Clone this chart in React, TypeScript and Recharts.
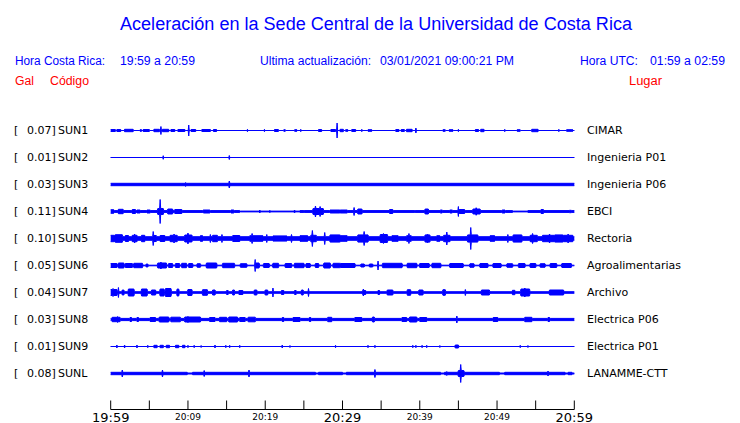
import React from 'react';
import { Area, ComposedChart, XAxis, YAxis } from 'recharts';

const BLUE = '#0000ff';
const RED = '#ff0000';

// Stations, top to bottom
const codes = ['SUN1', 'SUN2', 'SUN3', 'SUN4', 'SUN5', 'SUN6', 'SUN7', 'SUN8', 'SUN9', 'SUNL'];
const peaks = ['0.07', '0.01', '0.03', '0.11', '0.10', '0.05', '0.04', '0.03', '0.01', '0.08'];
const places = [
  'CIMAR', 'Ingenieria P01', 'Ingenieria P06', 'EBCI', 'Rectoria',
  'Agroalimentarias', 'Archivo', 'Electrica P06', 'Electrica P01', 'LANAMME-CTT',
];

// Minutes after 19:59
const minuteTicks = [0, 5, 10, 15, 20, 25, 30, 35, 40, 45, 50, 55, 60];
const tickLabels = ['19:59', '', '20:09', '', '20:19', '', '20:29', '', '20:39', '', '20:49', '', '20:59'];

// Trace envelopes: base half-amplitude, bursts [from, to, amp], spikes [at, amp]
type Burst = [number, number, number];
type Spike = [number, number];

const baseAmp = [0, 0, 1.2, 0.4, 1.8, 0.3, 0.8, 1.1, 0, 0.5];

const sun1Bursts: Burst[] = [
  [0, 0.6, 1], [0.8, 1.3, 1], [1.8, 2.9, 1.2], [3.8, 4.0, 0.8], [4.2, 5.0, 1], [5.6, 6.3, 1.2],
  [6.7, 7.5, 1.2], [7.8, 8.3, 1], [8.7, 9.6, 1], [10.4, 11.0, 1], [11.8, 12.9, 1], [13.3, 13.7, 1],
  [21.2, 21.7, 1], [22.4, 22.6, 0.8], [23.8, 24.1, 0.8], [26.9, 27.3, 1], [28.5, 29.1, 1],
  [29.7, 30.1, 1.2], [30.4, 30.7, 0.8], [31.2, 31.7, 1], [33.3, 33.8, 0.8], [36.9, 37.3, 1],
  [37.6, 38.0, 1], [38.3, 39.0, 1.2], [43.0, 43.3, 0.8], [43.8, 44.3, 0.8], [47.2, 47.6, 1],
  [47.9, 48.3, 1.2], [52.6, 53.0, 0.8], [54.5, 55.3, 1.2], [59.0, 59.6, 0.8],
];
const sun1Spikes: Spike[] = [
  [6.5, 4], [10.1, 5.5], [29.3, 7.5], [39.5, 2.5], [59.7, 1.5], [17.7, 1.2], [19.9, 1.2],
  [24.6, 1.2], [32.5, 1.2], [45.0, 1.2], [51.0, 1.2], [58.0, 1.2],
];

const sun2Bursts: Burst[] = [];
const sun2Spikes: Spike[] = [[6.8, 1.8], [15.35, 2]];

const sun3Bursts: Burst[] = [];
const sun3Spikes: Spike[] = [[15.35, 3.5], [9.7, 2]];

const sun4Bursts: Burst[] = [
  [0, 16.7, 0.9], [24.5, 52, 0.9], [54, 60, 0.9],
  [0, 0.4, 1.8], [1.0, 1.6, 2.2], [2.8, 3.2, 2], [3.4, 3.8, 1.5], [4.7, 5.1, 1.5], [6.1, 6.8, 3],
  [7.4, 8.0, 2.5], [8.3, 9.2, 2], [12.0, 12.8, 1.5], [15.6, 15.9, 1.5], [26.2, 27.5, 3],
  [28.4, 29.7, 1.5], [29.7, 30.6, 1.5], [32.0, 32.5, 2.5], [36.1, 36.5, 2], [40.7, 41.1, 2.5],
  [42.7, 42.9, 1.5], [43.9, 44.2, 1.5], [45.1, 45.8, 2], [46.9, 47.8, 2.5], [50.7, 51.0, 1.5],
  [55.7, 56.0, 2], [59.4, 59.6, 1.2],
];
const sun4Spikes: Spike[] = [
  [6.4, 12], [19.3, 1.5], [20.6, 1.2], [23.8, 1.5], [25.0, 1.5], [26.5, 5.5], [27.1, 5],
  [31.5, 4], [39.4, 1.5], [45.0, 5], [47.3, 3.8],
];

const sun5Bursts: Burst[] = [
  [0, 0.6, 3.2], [0.6, 1.5, 3.8], [1.9, 2.3, 3], [2.8, 3.4, 3.2], [4.0, 4.4, 3.2], [5.5, 5.9, 3],
  [6.4, 7.0, 3], [7.7, 8.6, 3.2], [9.6, 10.5, 3.5], [11.6, 11.9, 2.8], [13.2, 13.8, 3.2],
  [15.8, 16.7, 3], [18.0, 19.7, 2.8], [21.0, 22.8, 2.6], [24.5, 25.5, 2.8], [25.9, 26.6, 3.2],
  [28.4, 29.7, 3.6], [29.7, 30.6, 2.8], [32.0, 33.3, 3.6], [34.9, 35.8, 4], [36.4, 37.2, 2.8],
  [38.3, 38.9, 2.8], [40.7, 41.3, 3.6], [42.2, 42.6, 2.8], [43.1, 43.9, 3.2], [46.2, 47.5, 3.6],
  [49.1, 49.7, 2.8], [52.1, 53.2, 3.6], [54.3, 55.2, 3.2], [55.9, 59.8, 3.2], [57.5, 58.5, 3.6],
];
const sun5Spikes: Spike[] = [
  [5.5, 7], [10.0, 5.5], [18.3, 5], [26.1, 8], [27.7, 6], [32.8, 7], [38.6, 5], [43.5, 6.5],
  [46.6, 11], [54.6, 5], [3.1, 4.5], [8.2, 4.5], [12.9, 4], [14.4, 4], [20.2, 4], [23.4, 4],
  [35.3, 5], [41.0, 4.5], [51.4, 4], [56.8, 4.5], [59.2, 4.5],
];

const sun6Bursts: Burst[] = [
  [0, 0.8, 2], [1.0, 1.7, 2.5], [1.9, 2.8, 2], [3.0, 4.1, 2.2], [4.6, 4.8, 1.5], [6.1, 7.2, 2.5],
  [7.5, 8.0, 2], [8.4, 8.9, 2], [9.2, 9.8, 2.2], [10.1, 10.6, 2], [11.2, 11.6, 1.8],
  [12.4, 13.7, 2.5], [14.5, 16.0, 2.2], [16.8, 17.6, 1.8], [18.8, 19.2, 2.5], [19.8, 20.5, 2],
  [21.0, 21.7, 2.2], [22.6, 23.4, 2], [23.8, 25.0, 2.2], [25.3, 25.8, 2], [26.5, 26.9, 2],
  [27.6, 28.4, 2.5], [28.8, 29.7, 2.2], [29.7, 31.6, 2], [32.4, 32.8, 1.5], [33.5, 33.9, 1.5],
  [35.2, 37.7, 2.2], [38.4, 39.6, 2.2], [40.0, 41.2, 2], [41.6, 42.7, 2.2], [43.9, 45.6, 2],
  [46.5, 47.0, 1.8], [47.8, 48.8, 2], [49.5, 50.5, 2], [51.3, 52.0, 1.8], [52.8, 53.6, 2],
  [54.3, 55.0, 2], [55.6, 56.2, 1.8], [56.9, 57.7, 2], [58.4, 59.6, 2],
];
const sun6Spikes: Spike[] = [[6.5, 3.5], [18.7, 6], [34.6, 4.5]];

const sun7Bursts: Burst[] = [
  [0, 0.8, 3], [1.5, 1.7, 2.5], [2.3, 3.0, 3.5], [4.0, 4.7, 3.5], [5.3, 5.8, 2.5], [6.4, 6.9, 3.5],
  [7.1, 7.8, 4], [8.6, 8.8, 3.5], [10.0, 10.5, 3], [11.9, 12.5, 2.8], [13.2, 13.5, 2.5],
  [15.0, 15.2, 2], [15.8, 16.0, 2.5], [16.6, 17.1, 2], [18.6, 18.9, 2.5], [20.0, 20.3, 2.5],
  [22.1, 22.4, 2], [23.8, 24.0, 2], [24.7, 24.9, 2.5], [32.6, 33.0, 2], [34.6, 34.8, 2],
  [35.8, 36.5, 2.5], [38.4, 38.8, 2.8], [39.9, 40.4, 2.5], [43.0, 43.3, 2.8], [48.0, 49.0, 2.5],
  [52.0, 52.3, 2.2], [53.1, 54.2, 3.5], [56.8, 58.6, 2.5],
];
const sun7Spikes: Spike[] = [
  [0.3, 4], [1.0, 5], [21.0, 4.5], [25.6, 4], [32.7, 3.5], [45.9, 3], [53.6, 4.5],
];

const sun8Bursts: Burst[] = [
  [0.2, 1.2, 2.2], [2.5, 2.7, 2], [3.4, 3.6, 2], [5.1, 5.8, 2], [6.3, 7.5, 2.5], [7.8, 9.0, 2.3],
  [9.6, 11.6, 2.5], [12.8, 13.5, 2], [14.1, 15.0, 2.2], [15.3, 16.4, 2.5], [16.7, 17.4, 2],
  [17.8, 18.7, 2.3], [22.2, 22.4, 2], [23.6, 24.5, 2], [25.7, 25.9, 2], [28.1, 28.6, 2.2],
  [31.6, 32.5, 2], [33.9, 34.1, 2.5], [37.7, 38.3, 2], [38.7, 39.6, 2.5], [40.0, 40.9, 2],
  [49.5, 50.1, 2], [53.6, 54.5, 2.2], [56.6, 56.8, 2],
];
const sun8Spikes: Spike[] = [[0.9, 3], [10.0, 3.2], [44.8, 3.5]];

const sun9Bursts: Burst[] = [
  [5.6, 6.0, 1.2], [6.4, 6.8, 1.2], [7.2, 7.6, 1.2], [8.4, 8.8, 1.2], [9.3, 9.6, 1.2], [44.6, 45.0, 1.5],
];
const sun9Spikes: Spike[] = [
  [0.8, 1.5], [1.8, 1.5], [3.4, 1.5], [4.8, 1.2], [10.0, 1.2], [10.8, 1.2], [11.7, 1], [13.5, 1.5],
  [14.9, 1.2], [15.4, 1.2], [16.7, 1.2], [22.2, 1.5], [23.2, 1], [29.1, 1.2], [33.3, 1.2],
  [34.2, 1.2], [39.1, 1.2], [39.5, 1.2], [40.3, 1.2], [40.9, 1.2], [42.6, 1], [53.0, 1.2], [54.0, 1],
];

const sunlBursts: Burst[] = [
  [0, 9.9, 1.2], [10.6, 26.5, 1.2], [26.9, 30.0, 1.2], [30.5, 42.7, 1.2], [43.2, 50.3, 1.2],
  [51.0, 58.8, 1.2], [59.2, 59.7, 1.2], [45.0, 45.7, 3],
];
const sunlSpikes: Spike[] = [
  [1.5, 3.5], [6.7, 3.5], [12.1, 3], [17.9, 3.5], [34.2, 4], [43.5, 2], [45.3, 9], [56.6, 2.5],
];

const allBursts = [sun1Bursts, sun2Bursts, sun3Bursts, sun4Bursts, sun5Bursts, sun6Bursts, sun7Bursts, sun8Bursts, sun9Bursts, sunlBursts];
const allSpikes = [sun1Spikes, sun2Spikes, sun3Spikes, sun4Spikes, sun5Spikes, sun6Spikes, sun7Spikes, sun8Spikes, sun9Spikes, sunlSpikes];

// vertical distance between trace baselines
const SPACING = 27;
const centers = codes.map((_, i) => (codes.length - 1 - i) * SPACING);

// turn the envelope description into [low, high] points for a range Area
function buildBand(base: number, bursts: Burst[], spikes: Spike[], center: number) {
  const times = new Set<number>([0, 60]);
  bursts.forEach(([s, e]) => {
    times.add(s - 0.08); times.add(s); times.add(e); times.add(e + 0.08);
  });
  spikes.forEach(([t]) => {
    times.add(t - 0.07); times.add(t); times.add(t + 0.07);
  });
  const sorted = Array.from(times).filter((t) => t >= 0 && t <= 60).sort((a, b) => a - b);
  return sorted.map((t) => {
    let a = base;
    bursts.forEach(([s, e, v]) => {
      if (t >= s - 1e-9 && t <= e + 1e-9) a = Math.max(a, v);
    });
    spikes.forEach(([ts, v]) => {
      if (Math.abs(t - ts) < 1e-9) a = Math.max(a, v);
    });
    return { t, band: [center - a, center + a] };
  });
}

const traces = codes.map((c, i) => ({
  code: c,
  data: buildBand(baseAmp[i], allBursts[i], allSpikes[i], centers[i]),
}));

const labelFont = 'DejaVu Sans, sans-serif';

const LeftTick = (props: any) => {
  const { y, payload } = props;
  const i = codes.length - 1 - Math.round(payload.value / SPACING);
  return (
    <g fontFamily={labelFont} fontSize={11} fill="#000">
      <text x={14} y={y + 3.5}>[</text>
      <text x={27} y={y + 3.5}>{peaks[i]}]</text>
      <text x={58} y={y + 3.5}>{codes[i]}</text>
    </g>
  );
};

const RightTick = (props: any) => {
  const { y, payload } = props;
  const i = codes.length - 1 - Math.round(payload.value / SPACING);
  return (
    <text x={587} y={y + 3.5} fontFamily={labelFont} fontSize={11} fill="#000">
      {places[i]}
    </text>
  );
};

const TimeTick = (props: any) => {
  const { x, y, payload } = props;
  const idx = minuteTicks.indexOf(payload.value);
  const label = tickLabels[idx];
  const big = payload.value % 30 === 0;
  return (
    <g>
      <line x1={x} y1={y} x2={x} y2={y - 9} stroke="#000" strokeWidth={1} />
      {label && (
        <text
          x={x}
          y={big ? y + 12 : y + 10}
          textAnchor="middle"
          fontFamily={labelFont}
          fontSize={big ? 13 : 9}
          fill="#000"
        >
          {label}
        </text>
      )}
    </g>
  );
};

export default function App() {
  return (
    <div style={{ position: 'absolute', left: 0, top: 0, width: 740, height: 423, background: '#fff' }}>
      <ComposedChart
        width={740}
        height={423}
        margin={{ top: 103.5, right: 0, bottom: 0, left: 0 }}
      >
        <XAxis
          dataKey="t"
          type="number"
          domain={[0, 60]}
          ticks={minuteTicks}
          interval={0}
          height={13.5}
          tickSize={0}
          tickMargin={0}
          tickLine={false}
          axisLine={{ stroke: '#000' }}
          tick={<TimeTick />}
        />
        <YAxis
          yAxisId="left"
          type="number"
          domain={[-36, 270]}
          ticks={centers}
          interval={0}
          width={110.7}
          axisLine={false}
          tickLine={false}
          tick={<LeftTick />}
        />
        <YAxis
          yAxisId="right"
          orientation="right"
          type="number"
          domain={[-36, 270]}
          ticks={centers}
          interval={0}
          width={165.7}
          axisLine={false}
          tickLine={false}
          tick={<RightTick />}
        />
        {traces.map((tr, i) => (
          <Area
            key={tr.code}
            yAxisId={i < 5 ? 'left' : 'right'}
            data={tr.data}
            dataKey="band"
            type="linear"
            stroke={BLUE}
            strokeWidth={1}
            fill={BLUE}
            fillOpacity={1}
            dot={false}
            activeDot={false}
            isAnimationActive={false}
          />
        ))}
      </ComposedChart>
      <svg
        width={740}
        height={100}
        style={{ position: 'absolute', left: 0, top: 0, pointerEvents: 'none' }}
        fontFamily="Liberation Sans, Arial, sans-serif"
      >
        <text x={120} y={29.5} fontSize={18} fill={BLUE} textLength={512} lengthAdjust="spacingAndGlyphs">
          Aceleración en la Sede Central de la Universidad de Costa Rica
        </text>
        <g fontSize={12} fill={BLUE}>
          <text x={15} y={65} textLength={90} lengthAdjust="spacingAndGlyphs">Hora Costa Rica:</text>
          <text x={120} y={65} textLength={75} lengthAdjust="spacingAndGlyphs">19:59 a 20:59</text>
          <text x={260} y={65} textLength={111} lengthAdjust="spacingAndGlyphs">Ultima actualización:</text>
          <text x={380} y={65} textLength={134} lengthAdjust="spacingAndGlyphs">03/01/2021 09:00:21 PM</text>
          <text x={580} y={65} textLength={58} lengthAdjust="spacingAndGlyphs">Hora UTC:</text>
          <text x={650} y={65} textLength={75} lengthAdjust="spacingAndGlyphs">01:59 a 02:59</text>
        </g>
        <g fontSize={12} fill={RED}>
          <text x={15} y={84.5} textLength={19} lengthAdjust="spacingAndGlyphs">Gal</text>
          <text x={50} y={84.5} textLength={39} lengthAdjust="spacingAndGlyphs">Código</text>
          <text x={629} y={84.5} textLength={33} lengthAdjust="spacingAndGlyphs">Lugar</text>
        </g>
      </svg>
    </div>
  );
}
